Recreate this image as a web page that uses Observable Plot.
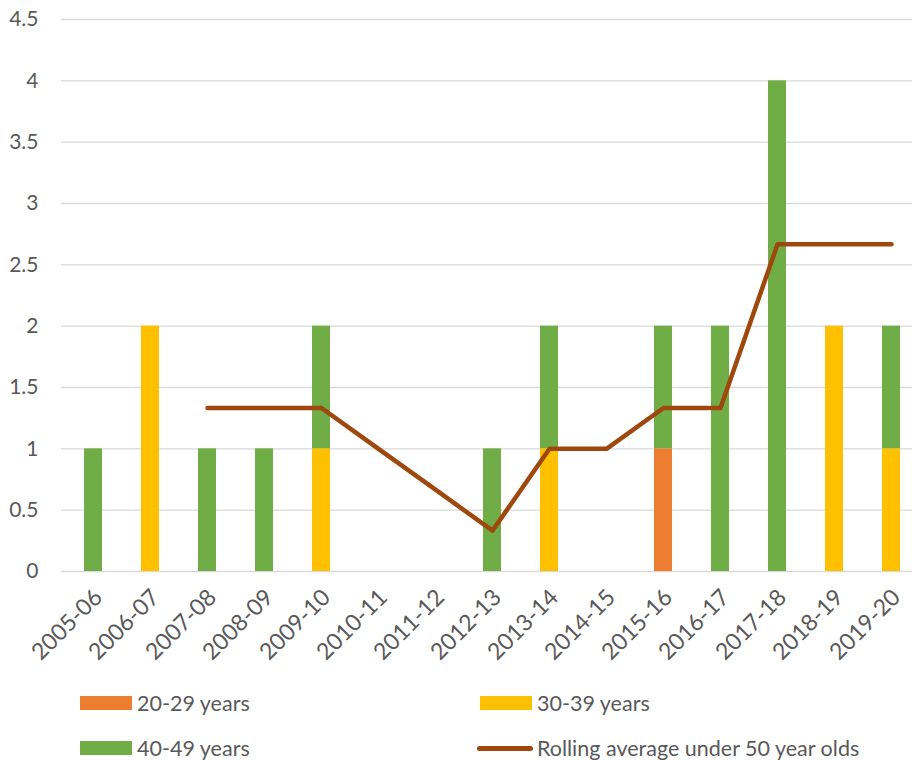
<!DOCTYPE html>
<html>
<head>
<meta charset="utf-8">
<script src="https://cdn.jsdelivr.net/npm/d3@7"></script>
<script src="https://cdn.jsdelivr.net/npm/@observablehq/plot@0.6"></script>
<style>
  html, body { margin: 0; padding: 0; background: #fff; }
  #wrap { position: relative; width: 912px; height: 760px; overflow: hidden; font-family: Lato, "Noto Sans", sans-serif; color: #595959; }
  #chart svg { display: block; }
  .leg { position: absolute; display: flex; align-items: center; font-size: 21.5px; color: #595959; white-space: nowrap; }
  .sw { width: 52px; height: 14px; margin-right: 5px; }
  .ln { width: 56px; height: 5px; border-radius: 3px; margin-right: 4px; margin-left: -3px; }
</style>
</head>
<body>
<div id="wrap">
  <div id="chart"></div>
</div>
<script>
const years = ["2005-06","2006-07","2007-08","2008-09","2009-10","2010-11","2011-12","2012-13","2013-14","2014-15","2015-16","2016-17","2017-18","2018-19","2019-20"];
const age20to29 = [0,0,0,0,0,0,0,0,0,0,1,0,0,0,0];
const age30to39 = [0,2,0,0,1,0,0,0,1,0,0,0,0,2,1];
const age40to49 = [1,0,1,1,1,0,0,1,1,0,1,2,4,0,1];
const rollingAvg = [null,null,1.333,1.333,1.333,1,0.667,0.333,1,1,1.333,1.333,2.667,2.667,2.667];
const seriesNames = ["20-29 years","30-39 years","40-49 years"];
const seriesColors = ["#ED7D31","#FFC000","#70AD47"];
const lineName = "Rolling average under 50 year olds";
const lineColor = "#9E480E";
const yTicks = [0,0.5,1,1.5,2,2.5,3,3.5,4,4.5];

const seriesValues = [age20to29, age30to39, age40to49];
const barData = [];
years.forEach((yr, i) => {
  seriesNames.forEach((s, k) => {
    if (seriesValues[k][i] > 0) barData.push({year: yr, series: s, value: seriesValues[k][i]});
  });
});
const lineData = years.map((yr, i) => ({year: yr, value: rollingAvg[i]}));

const chart = Plot.plot({
  width: 912,
  height: 680,
  marginLeft: 61,
  marginRight: 0,
  marginTop: 19,
  marginBottom: 109,
  style: {fontFamily: "Lato, 'Noto Sans', sans-serif", fontSize: "21px", color: "#595959", background: "#fff"},
  x: {type: "band", domain: years, range: [61.3, 922.4], paddingInner: 0.686, paddingOuter: 0.343, label: null},
  y: {domain: [0, 4.5], label: null},
  color: {domain: seriesNames, range: seriesColors},
  marks: [
    Plot.gridY(yTicks, {stroke: "#D9D9D9", strokeOpacity: 1, strokeWidth: 1.3}),
    Plot.barY(barData, Plot.stackY({x: "year", y: "value", fill: "series", order: seriesNames})),
    Plot.line(lineData, {x: "year", y: "value", stroke: lineColor, strokeWidth: 4.5, strokeLinecap: "round", strokeLinejoin: "round"}),
    Plot.axisY({ticks: yTicks, tickSize: 0, tickPadding: 23, fontSize: 21, fill: "#595959", tickFormat: d => String(d)}),
    Plot.axisX({tickSize: 0, tickRotate: -45, tickPadding: 22, dx: 5, fontSize: 23, fill: "#595959"})
  ]
});
document.getElementById("chart").appendChild(chart);

const wrap = document.getElementById("wrap");
const legendItems = [
  {name: seriesNames[0], color: seriesColors[0], type: "sw", left: 80, top: 703},
  {name: seriesNames[1], color: seriesColors[1], type: "sw", left: 480, top: 703},
  {name: seriesNames[2], color: seriesColors[2], type: "sw", left: 80, top: 748},
  {name: lineName, color: lineColor, type: "ln", left: 480, top: 748}
];
legendItems.forEach(it => {
  const d = document.createElement("div");
  d.className = "leg";
  d.style.left = it.left + "px";
  d.style.top = (it.top - 13) + "px";
  d.style.height = "26px";
  const s = document.createElement("span");
  s.className = it.type;
  s.style.background = it.color;
  s.style.display = "inline-block";
  const t = document.createElement("span");
  t.textContent = it.name;
  d.appendChild(s);
  d.appendChild(t);
  wrap.appendChild(d);
});
</script>
</body>
</html>
